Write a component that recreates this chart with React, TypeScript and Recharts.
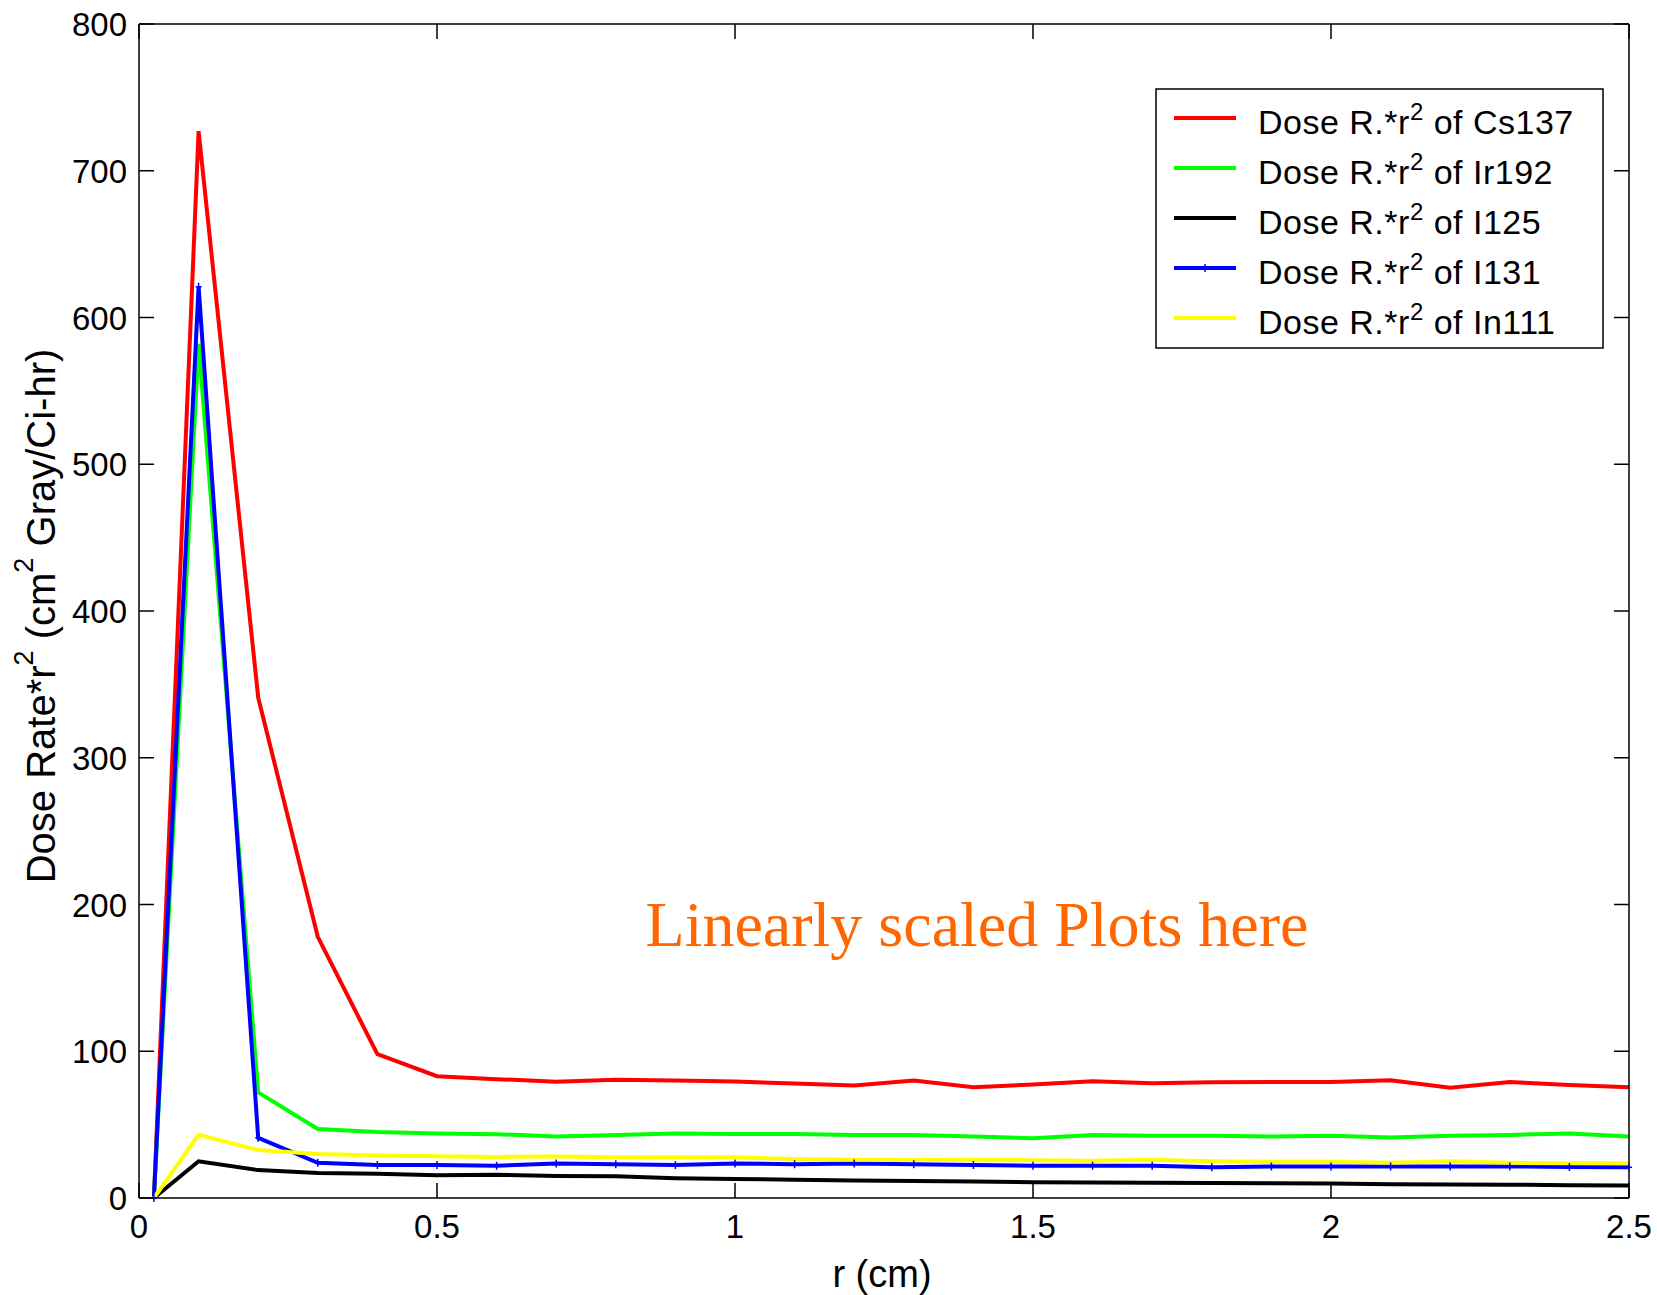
import { LineChart, Line, XAxis, YAxis, Legend, ReferenceDot } from 'recharts';

const radius = [0.025, 0.1, 0.2, 0.3, 0.4, 0.5, 0.6, 0.7, 0.8, 0.9, 1.0, 1.1, 1.2, 1.3, 1.4, 1.5, 1.6, 1.7, 1.8, 1.9, 2.0, 2.1, 2.2, 2.3, 2.4, 2.5];
const cs137 = [0, 727, 341, 178, 98, 83, 81, 79.3, 80.5, 80, 79.4, 78, 76.7, 80, 75.5, 77.3, 79.5, 78.2, 78.8, 79, 79, 80.2, 75.2, 79, 77, 75.4];
const ir192 = [0, 582, 72, 47, 45, 44, 43.5, 41.9, 43, 44, 43.6, 43.6, 43, 43, 41.9, 40.7, 43, 42.5, 42.5, 41.9, 42.5, 41.2, 42.5, 43, 44, 41.9];
const i125 = [0, 25, 19, 17, 16.5, 15.5, 15.8, 15, 14.8, 13.5, 13, 12.5, 12, 11.5, 11.2, 10.8, 10.5, 10.4, 10.2, 10, 9.8, 9.4, 9.2, 9.1, 8.7, 8.5];
const i131 = [0, 621, 41, 24, 22.5, 22.5, 22, 23.5, 23, 22.5, 23.5, 23, 23.5, 23, 22.5, 22, 22, 22, 21, 21.5, 21.5, 21.5, 21.5, 21.5, 21.2, 21];
const in111 = [0, 43, 32.7, 30, 29, 28.5, 28, 28.2, 27.7, 27.7, 27.7, 26.5, 26, 26, 26, 25.8, 25.4, 26, 25, 24.7, 24.7, 24, 25, 24, 23.6, 23.6];

const xTicks = [0, 0.5, 1, 1.5, 2, 2.5];
const yTicks = [0, 100, 200, 300, 400, 500, 600, 700, 800];

const series = [
  { key: 'cs137', name: 'Cs137', color: '#ff0000' },
  { key: 'ir192', name: 'Ir192', color: '#00ff00' },
  { key: 'i125', name: 'I125', color: '#000000' },
  { key: 'i131', name: 'I131', color: '#0000ff' },
  { key: 'in111', name: 'In111', color: '#ffff00' },
];

const data = radius.map((r, i) => ({
  r,
  cs137: cs137[i],
  ir192: ir192[i],
  i125: i125[i],
  i131: i131[i],
  in111: in111[i],
}));

const FONT = 'Arial, "Liberation Sans", sans-serif';
const TICK = 15;

function BottomTick({ x, y, payload }: any) {
  return (
    <g>
      <line x1={x} x2={x} y1={y} y2={y - TICK} stroke="#000" strokeWidth={1.5} />
      <text x={x} y={y + 40} textAnchor="middle" fontSize={33} fontFamily={FONT} fill="#000">
        {payload.value}
      </text>
    </g>
  );
}

function TopTick({ x, y }: any) {
  return <line x1={x} x2={x} y1={y} y2={y + TICK} stroke="#000" strokeWidth={1.5} />;
}

function LeftTick({ x, y, payload }: any) {
  return (
    <g>
      <line x1={x} x2={x + TICK} y1={y} y2={y} stroke="#000" strokeWidth={1.5} />
      <text x={x - 12} y={y + 12} textAnchor="end" fontSize={33} fontFamily={FONT} fill="#000">
        {payload.value}
      </text>
    </g>
  );
}

function RightTick({ x, y }: any) {
  return <line x1={x} x2={x - TICK} y1={y} y2={y} stroke="#000" strokeWidth={1.5} />;
}

function PlusDot(props: any) {
  const { cx, cy } = props;
  if (cx == null || cy == null) return <g />;
  return (
    <path
      d={`M${cx - 3},${cy}H${cx + 3}M${cx},${cy - 4}V${cy + 4}`}
      stroke="#0000ff"
      strokeWidth={1.5}
      fill="none"
    />
  );
}

function YLabel({ viewBox }: any) {
  const cx = 55;
  const cy = viewBox.y + viewBox.height / 2 + 5;
  return (
    <text
      x={cx}
      y={cy}
      transform={`rotate(-90, ${cx}, ${cy})`}
      textAnchor="middle"
      fontSize={40}
      fontFamily={FONT}
      fill="#000"
    >
      Dose Rate*r<tspan fontSize={27} dy={-22}>2</tspan>
      <tspan dy={22}> (cm</tspan>
      <tspan fontSize={27} dy={-22}>2</tspan>
      <tspan dy={22}> Gray/Ci-hr)</tspan>
    </text>
  );
}

function XLabel({ viewBox }: any) {
  return (
    <text
      x={viewBox.x + viewBox.width / 2 - 2}
      y={viewBox.y + 89}
      textAnchor="middle"
      fontSize={38}
      fontFamily={FONT}
      fill="#000"
    >
      r (cm)
    </text>
  );
}

function Note({ viewBox }: any) {
  return (
    <text
      x={viewBox.x}
      y={viewBox.y}
      textAnchor="middle"
      fontSize={64}
      fontFamily='"Times New Roman", "Liberation Serif", serif'
      fill="#ff6600"
    >
      Linearly scaled Plots here
    </text>
  );
}

function LegendBox() {
  return (
    <svg width={450} height={262}>
      <rect x={1} y={1} width={447} height={259} fill="#fff" stroke="#000" strokeWidth={1.5} />
      {series.map((s, i) => {
        const ly = 30 + i * 50;
        return (
          <g key={s.key}>
            <line x1={19} x2={81} y1={ly} y2={ly} stroke={s.color} strokeWidth={4} />
            {s.key === 'i131' && <PlusDot cx={50} cy={ly} />}
            <text x={103} y={ly + 16} fontSize={34} fontFamily={FONT} fill="#000" letterSpacing={0.5}>
              Dose R.*r<tspan fontSize={24} dy={-14}>2</tspan>
              <tspan dy={14}> of {s.name}</tspan>
            </text>
          </g>
        );
      })}
    </svg>
  );
}

export default function App() {
  return (
    <div style={{ position: 'absolute', left: 0, top: 0, background: '#fff' }}>
      <LineChart
        width={1657}
        height={1295}
        data={data}
        margin={{ top: 23, right: 27, bottom: 17, left: 8 }}
      >
        <XAxis
          dataKey="r"
          type="number"
          domain={[0, 2.5]}
          ticks={xTicks}
          interval={0}
          height={80}
          tickSize={0}
          tickMargin={0}
          tickLine={false}
          tick={<BottomTick />}
          axisLine={{ stroke: '#000', strokeWidth: 1.5 }}
          label={<XLabel />}
        />
        <XAxis
          xAxisId="top"
          orientation="top"
          dataKey="r"
          type="number"
          domain={[0, 2.5]}
          ticks={xTicks}
          interval={0}
          height={1}
          tickSize={0}
          tickMargin={0}
          tickLine={false}
          tick={<TopTick />}
          axisLine={{ stroke: '#000', strokeWidth: 1.5 }}
        />
        <YAxis
          type="number"
          domain={[0, 800]}
          ticks={yTicks}
          interval={0}
          width={131}
          tickSize={0}
          tickMargin={0}
          tickLine={false}
          tick={<LeftTick />}
          axisLine={{ stroke: '#000', strokeWidth: 1.5 }}
          label={<YLabel />}
        />
        <YAxis
          yAxisId="right"
          orientation="right"
          type="number"
          domain={[0, 800]}
          ticks={yTicks}
          interval={0}
          width={1}
          tickSize={0}
          tickMargin={0}
          tickLine={false}
          tick={<RightTick />}
          axisLine={{ stroke: '#000', strokeWidth: 1.5 }}
        />
        <Legend
          layout="horizontal"
          align="center"
          verticalAlign="middle"
          content={<LegendBox />}
          wrapperStyle={{ left: 1155, top: 88, width: 450, height: 262 }}
        />
        <ReferenceDot x={1.406} y={172} r={0} fill="none" stroke="none" label={<Note />} />
        {series.map((s) => (
          <Line
            key={s.key}
            type="linear"
            dataKey={s.key}
            name={s.name}
            stroke={s.color}
            strokeWidth={4}
            dot={s.key === 'i131' ? <PlusDot /> : false}
            activeDot={false}
            isAnimationActive={false}
          />
        ))}
        <Line
          xAxisId="top"
          yAxisId="right"
          dataKey="cs137"
          stroke="none"
          dot={false}
          activeDot={false}
          legendType="none"
          isAnimationActive={false}
        />
      </LineChart>
    </div>
  );
}
